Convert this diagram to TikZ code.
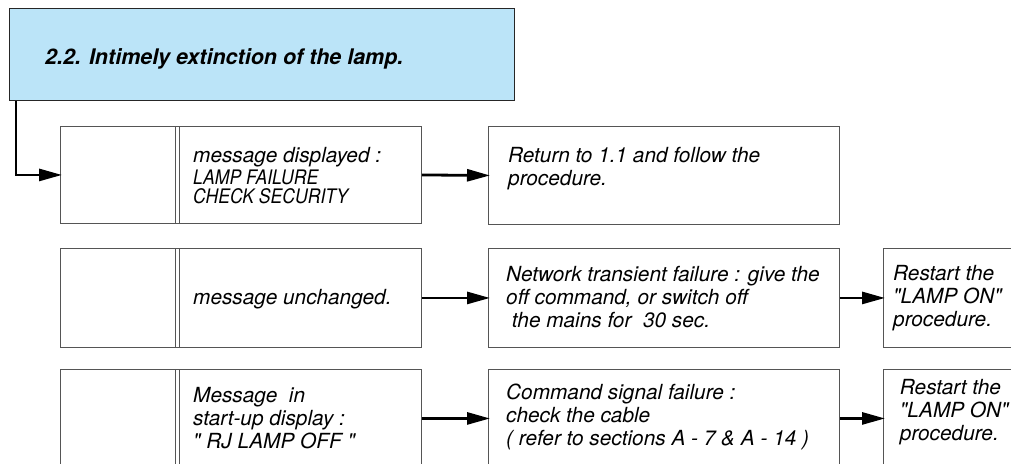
\documentclass[tikz,border=0pt]{standalone}
\usepackage{fontspec}
\newfontfamily\helv{TeX Gyre Heros}
\newfontfamily\narrowfont[FakeStretch=0.88]{TeX Gyre Heros}
\usetikzlibrary{arrows.meta}
\definecolor{titleblue}{RGB}{187,228,248}
\definecolor{boxgray}{RGB}{85,85,85}
\begin{document}
\begin{tikzpicture}[x=1pt,y=-1pt,
  box/.style={draw=boxgray, line width=0.9pt, inner sep=0pt, anchor=north west},
  titlebox/.style={draw=black!85, fill=titleblue, line width=1.4pt, inner sep=0pt, anchor=north west},
  txt/.style={anchor=base west, inner sep=0pt, align=left, font=\fontsize{20.8}{22.8}\helv\itshape},
  smalltxt/.style={anchor=base west, inner sep=0pt, align=left, font=\fontsize{20}{19}\narrowfont\itshape},
  conn/.style={line width=2.8pt, -{Triangle[length=23pt,width=12pt]}, shorten >=-2pt}
]
\useasboundingbox (0,0) rectangle (1011,463);
\clip (0,0) rectangle (1011,463);
% title
\node[titlebox, minimum width=505pt, minimum height=92pt] (t) at (9,8) {};
\node[anchor=base west, inner sep=0pt, font=\fontsize{21.5}{24}\helv\bfseries\itshape] (tt) at (45,64) {2.2. Intimely extinction of the lamp.};
% row 1
\node[box, minimum width=361pt, minimum height=97pt] (a1) at (60,126) {};
\node[box, minimum width=351pt, minimum height=98pt] (b1) at (488,126) {};
% row 2
\node[box, minimum width=361pt, minimum height=99pt] (a2) at (60,248) {};
\node[box, minimum width=351pt, minimum height=99pt] (b2) at (488,248) {};
\node[box, minimum width=200pt, minimum height=99pt] (c2) at (883,248) {};
% row 3 (bottom edge lies below the picture)
\node[box, minimum width=361pt, minimum height=98pt] (a3) at (60,369) {};
\node[box, minimum width=351pt, minimum height=98pt] (b3) at (488,369) {};
\node[box, minimum width=200pt, minimum height=98pt] (c3) at (883,369) {};
% double divider lines
\foreach \r in {1,2,3}{
  \draw[boxgray, line width=0.9pt] ([xshift=115pt]a\r.north west) -- ([xshift=115pt]a\r.south west);
  \draw[boxgray, line width=0.9pt] ([xshift=119pt]a\r.north west) -- ([xshift=119pt]a\r.south west);
}
% texts (anchored at the baseline of the last line)
\node[txt] (m1) at (193,162) {message displayed :};
\node[smalltxt] (m1b) at (193,203) {LAMP FAILURE\\CHECK SECURITY};
\node[txt] (r1) at (508,185) {Return to 1.1 and follow the\\procedure.};
\node[txt] (m2) at (193,304) {message unchanged.};
\node[txt] (r2) at (506,327) {Network transient failure : give the\\off command, or switch off\\\ the mains for\ \ 30 sec.};
\node[txt] (s2) at (893,326) {Restart the\\"LAMP ON"\\procedure.};
\node[txt] (m3) at (193,448) {Message\ \ in\\start-up display :\\"\ RJ LAMP OFF "};
\node[txt] (r3) at (506,445) {Command signal failure :\\check the cable\\( refer to sections A - 7 \& A - 14 )};
\node[txt] (s3) at (894,440) {\ Restart the\\\ "LAMP ON"\\\ procedure.};
% connectors
\coordinate (start) at ([xshift=7pt]t.south west);
\draw[line width=2.8pt, -{Triangle[length=23pt,width=12pt]}] (start) |- ([xshift=2pt]a1.west);
\draw[conn] (a1.east) -- (b1.west);
\draw[conn] (a2.east) -- (b2.west);
\draw[conn] (a3.east) -- (b3.west);
\draw[conn] (b2.east) -- (c2.west);
\draw[conn] (b3.east) -- (c3.west);
\end{tikzpicture}
\end{document}
